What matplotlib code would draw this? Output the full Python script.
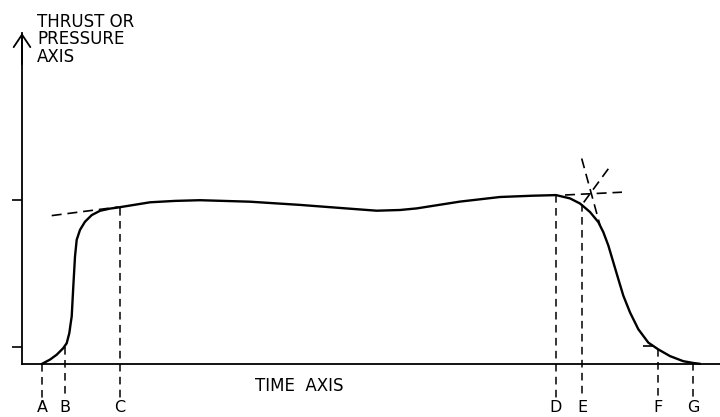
import matplotlib
matplotlib.use("Agg")
import matplotlib.pyplot as plt

plt.rcParams['font.family'] = ['DejaVu Sans']

# Thrust-time curve (arbitrary units: time along x, thrust/pressure along y)
time = [19.7, 28, 34.7, 41.3, 44.7, 47.3, 48.7, 49.7, 51.3, 53, 54.7, 58, 63,
        69.7, 78, 88, 94.7, 128, 153, 178, 228, 278, 328, 354.7, 378, 394.7,
        438, 478, 511, 534, 548, 558, 568, 576.3, 581.3, 586.3, 591.3, 596.3,
        601.3, 608, 616.3, 626.3, 636.3, 648, 661.3, 671.3, 678]
thrust = [0, 4.4, 9.3, 15.9, 20.8, 30.8, 40.8, 47.5, 77.5, 107.5, 124.2, 134.1,
          142.3, 148.9, 153.2, 155.4, 156.3, 161.7, 163.1, 163.8, 162.3, 159.1,
          155.3, 153.3, 154.0, 155.6, 162.4, 167.0, 168.3, 168.9, 165.6, 160.5,
          152.0, 141.9, 131.9, 118.6, 101.8, 85.0, 68.4, 51.6, 34.8, 21.4, 14.6,
          7.9, 2.8, 1.0, 0.2]

# Characteristic points
event_labels = ['A', 'B', 'C', 'D', 'E', 'F', 'G']
event_time = [20, 43, 98, 534, 560, 636, 671]
event_thrust = [0, 17.5, 156, 169, 160, 14.6, 1]

# Construction (tangent / bisector) lines: (t0, p0, t1, p1)
construction_lines = [
    (29.7, 148.4, 96.3, 157.0),     # initial tangent at C
    (543, 169.0, 600, 171.8),       # tangent at D
    (559.7, 205.5, 578, 138.7),     # tail-off tangent
    (586.3, 195.2, 559.7, 158.9),   # bisector to E
    (621.3, 18.1, 630.7, 18.1),     # short mark at F
]

yticks = [17, 164]

fig = plt.figure(figsize=(7.2, 4.17), dpi=100)
ax = fig.add_axes([22 / 720, (417 - 364) / 417, 698 / 720, (364 - 33) / 417])
ax.set_xlim(0, 698)
ax.set_ylim(0, 331)
for s in ['top', 'right']:
    ax.spines[s].set_visible(False)
for s in ['left', 'bottom']:
    ax.spines[s].set_linewidth(1.3)
    ax.spines[s].set_color('black')
ax.set_xticks([])
ax.set_yticks(yticks)
ax.set_yticklabels([])
ax.tick_params(axis='y', direction='out', length=7, width=1.2)

# arrowhead on thrust axis
ax.annotate('', xy=(0, 331), xytext=(0, 300),
            arrowprops=dict(arrowstyle='->,head_length=0.45,head_width=0.3',
                            lw=1.3, color='black', mutation_scale=20,
                            shrinkA=0, shrinkB=0),
            annotation_clip=False)

ax.plot(time, thrust, color='black', lw=1.7, solid_joinstyle='round',
        solid_capstyle='round', clip_on=False)

for (t0, p0, t1, p1) in construction_lines:
    ax.plot([t0, t1], [p0, p1], color='black', lw=1.2, dashes=(6, 3.5),
            clip_on=False)

for lab, t, p in zip(event_labels, event_time, event_thrust):
    ax.plot([t, t], [p, -34], color='black', lw=1.1, dashes=(5, 3.5),
            clip_on=False)
    ax.text(t, -44, lab, ha='center', va='center', fontsize=11.5,
            clip_on=False)

ax.text(277, -22, 'TIME  AXIS', ha='center', va='center', fontsize=12,
        clip_on=False)
ax.text(15, 351, 'THRUST OR\nPRESSURE\nAXIS', ha='left', va='top',
        fontsize=12, linespacing=0.95, clip_on=False)

fig.savefig('out.png', dpi=100)
